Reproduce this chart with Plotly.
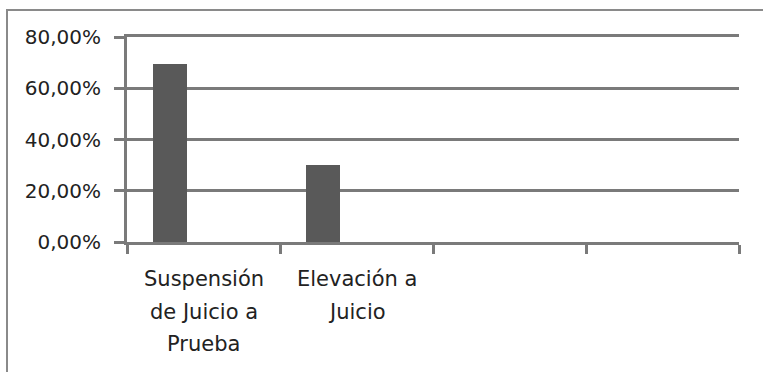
import plotly.graph_objects as go

# Chart data
categories = ["Suspensión de Juicio a Prueba", "Elevación a Juicio", " ", "  "]
label_lines = [["Suspensión", "de Juicio a", "Prueba"], ["Elevación a", "Juicio"], [], []]
values = [69.4, 30.2, None, None]
y_ticks = [0, 20, 40, 60, 80]
y_tick_text = [f"{v:.2f}".replace(".", ",") + "%" for v in y_ticks]

W, H = 763, 372
M_L, M_R, M_T, M_B = 127, 24, 37, 130
plot_w = W - M_L - M_R
plot_h = H - M_T - M_B

LINE = "#7a7a7a"
BAR = "#595959"
TEXT = "#222222"

fig = go.Figure()
fig.add_trace(go.Bar(
    x=categories,
    y=values,
    marker=dict(color=BAR, line=dict(width=0)),
    width=0.2222,
    offset=-0.3333,
    showlegend=False,
    hoverinfo="x+y",
))

# multi-line category labels below the axis
annotations = []
for cat, lines in zip(categories, label_lines):
    for i, line in enumerate(lines):
        annotations.append(dict(
            x=cat, xref="x", y=0, yref="paper",
            text=line, showarrow=False,
            xanchor="center", yanchor="middle",
            yshift=-(37 + 32.5 * i),
            font=dict(family="DejaVu Sans", size=21, color=TEXT),
        ))

# outer chart frame (left and top edges)
fx = (7 - M_L) / plot_w
fy = (H - M_B - 10) / plot_h
shapes = [dict(
    type="path", xref="paper", yref="paper",
    path=f"M {fx},-1 L {fx},{fy} L 1.2,{fy}",
    line=dict(color="#8a8a8a", width=2),
)]

fig.update_layout(
    width=W, height=H,
    margin=dict(l=M_L, r=M_R, t=M_T, b=M_B, pad=0),
    paper_bgcolor="white", plot_bgcolor="white",
    bargap=0,
    annotations=annotations,
    shapes=shapes,
    font=dict(family="DejaVu Sans", color=TEXT),
)
fig.update_xaxes(
    type="category",
    categoryorder="array", categoryarray=categories,
    showticklabels=False,
    tickson="boundaries",
    ticks="outside", ticklen=9, tickwidth=3, tickcolor=LINE,
    showline=True, linewidth=3, linecolor=LINE, mirror=True,
    showgrid=False,
    range=[-0.5, 3.5],
)
fig.update_yaxes(
    range=[0, 80],
    tickvals=y_ticks,
    ticktext=y_tick_text,
    ticks="outside", ticklen=10, tickwidth=3, tickcolor=LINE,
    ticklabelstandoff=9,
    tickfont=dict(family="DejaVu Sans", size=20, color=TEXT),
    showline=True, linewidth=3, linecolor=LINE,
    showgrid=True, gridwidth=3, gridcolor=LINE,
    zeroline=False,
)

fig.write_html("out.html")
